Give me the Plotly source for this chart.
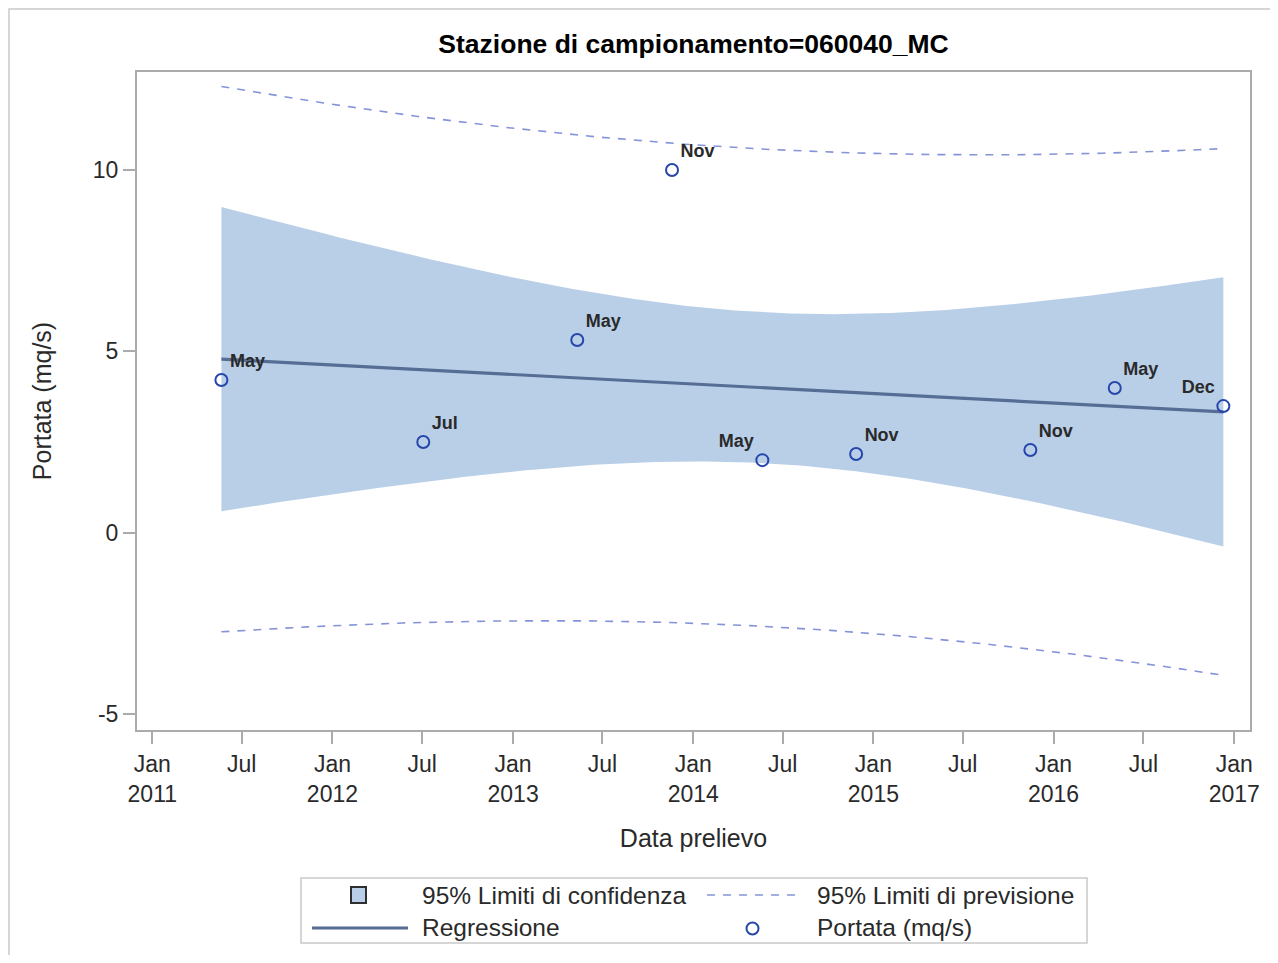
import numpy as np
import pandas as pd
import plotly.graph_objects as go

# ---------------- data ----------------
dates = ["2011-05-21", "2012-07-03", "2013-05-11", "2013-11-19", "2014-05-21",
         "2014-11-27", "2015-11-15", "2016-05-04", "2016-12-10"]
portata = [4.21, 2.50, 5.31, 10.0, 2.00, 2.17, 2.28, 3.99, 3.49]
labels = ["May", "Jul", "May", "Nov", "May", "Nov", "Nov", "May", "Dec"]
label_pos = ["top right", "top right", "top right", "top right", "top left",
             "top right", "top right", "top right", "top left"]

xtick_vals = ["2011-01-01", "2011-07-01", "2012-01-01", "2012-07-01", "2013-01-01",
              "2013-07-01", "2014-01-01", "2014-07-01", "2015-01-01", "2015-07-01",
              "2016-01-01", "2016-07-01", "2017-01-01"]
xtick_text = ["Jan<br>2011", "Jul", "Jan<br>2012", "Jul", "Jan<br>2013", "Jul",
              "Jan<br>2014", "Jul", "Jan<br>2015", "Jul", "Jan<br>2016", "Jul",
              "Jan<br>2017"]
ytick_vals = [-5, 0, 5, 10]
ytick_text = ["-5", "0", "5", "10"]

title_text = "Stazione di campionamento=060040_MC"
x_title = "Data prelievo"
y_title = "Portata (mq/s)"
legend_labels = ["95% Limiti di confidenza", "95% Limiti di previsione",
                 "Regressione", "Portata (mq/s)"]

# ---------------- linear regression fit with 95% limits ----------------
t_dates = pd.to_datetime(dates)
t0 = t_dates.min()
xd = np.array([(d - t0).days for d in t_dates], dtype=float)
yv = np.array(portata, dtype=float)
n = len(xd)
b1, b0 = np.polyfit(xd, yv, 1)
resid = yv - (b0 + b1 * xd)
s = np.sqrt(np.sum(resid ** 2) / (n - 2))
sxx = np.sum((xd - xd.mean()) ** 2)
tq = 2.364624  # t(0.975, df=7)

grid = np.linspace(xd.min(), xd.max(), 200)
fit = b0 + b1 * grid
se_mean = s * np.sqrt(1.0 / n + (grid - xd.mean()) ** 2 / sxx)
se_pred = s * np.sqrt(1.0 + 1.0 / n + (grid - xd.mean()) ** 2 / sxx)
clm_lo, clm_hi = fit - tq * se_mean, fit + tq * se_mean
pi_lo, pi_hi = fit - tq * se_pred, fit + tq * se_pred
grid_dates = [t0 + pd.Timedelta(days=float(g)) for g in grid]

# ---------------- styling ----------------
FONT = "Liberation Sans, Arial, sans-serif"
C_BAND = "#b9cfe8"
C_REG = "#566e95"
C_PRED = "#8594d8"
C_MARK = "#2646ab"
C_AXIS = "#a9abad"
C_TEXT = "#2a2a2a"

PAGE_W, PAGE_H = 1278, 963
OFF = 8  # page body margin
W, H = PAGE_W - 2 * OFF, PAGE_H - 2 * OFF
# plot area in page pixels
P_L, P_R, P_T, P_B = 137, 1250, 72, 730
L = P_L - OFF
T = P_T - OFF
R = W - (P_R - OFF)
B = H - (P_B - OFF)
PW, PH = P_R - P_L, P_B - P_T


def px(x):
    return (x - P_L) / PW


def py(y):
    return (P_B - y) / PH


fig = go.Figure()

fig.add_trace(go.Scatter(
    x=grid_dates + grid_dates[::-1],
    y=list(clm_hi) + list(clm_lo[::-1]),
    fill="toself", fillcolor=C_BAND, line=dict(width=0),
    mode="lines", hoverinfo="skip", showlegend=False))

for band in (pi_hi, pi_lo):
    fig.add_trace(go.Scatter(
        x=grid_dates, y=band, mode="lines",
        line=dict(color=C_PRED, width=1.6, dash="8px,8px"),
        showlegend=False))

fig.add_trace(go.Scatter(
    x=grid_dates, y=fit, mode="lines",
    line=dict(color=C_REG, width=3.2), showlegend=False))

fig.add_trace(go.Scatter(
    x=t_dates, y=portata, mode="markers+text",
    text=labels, textposition=label_pos,
    textfont=dict(family=FONT, size=18, color=C_TEXT, weight="bold"),
    marker=dict(symbol="circle-open", size=12, color=C_MARK,
                line=dict(width=2, color=C_MARK)),
    showlegend=False))

shapes = []
annotations = []

# outer border (top / left)
shapes.append(dict(type="line", xref="paper", yref="paper",
                   x0=px(OFF + 0.5), x1=px(PAGE_W), y0=py(OFF + 1), y1=py(OFF + 1),
                   line=dict(color="#d6d6d6", width=2)))
shapes.append(dict(type="line", xref="paper", yref="paper",
                   x0=px(OFF + 1), x1=px(OFF + 1), y0=py(OFF + 0.5), y1=py(PAGE_H),
                   line=dict(color="#d6d6d6", width=2)))

# legend box
shapes.append(dict(type="rect", xref="paper", yref="paper",
                   x0=px(301), x1=px(1087), y0=py(878), y1=py(943),
                   line=dict(color="#c9c9c9", width=1.5)))
# confidence symbol
shapes.append(dict(type="rect", xref="paper", yref="paper",
                   x0=px(351), x1=px(366), y0=py(887), y1=py(903),
                   fillcolor=C_BAND, line=dict(color="#2f2f2f", width=2)))
# prediction symbol
shapes.append(dict(type="line", xref="paper", yref="paper",
                   x0=px(707), x1=px(797), y0=py(895), y1=py(895),
                   line=dict(color=C_PRED, width=1.6, dash="8px,8px")))
# regression symbol
shapes.append(dict(type="line", xref="paper", yref="paper",
                   x0=px(312), x1=px(408), y0=py(928), y1=py(928),
                   line=dict(color=C_REG, width=3.2)))
# marker symbol
shapes.append(dict(type="circle", xref="paper", yref="paper",
                   x0=px(746.5), x1=px(758.5), y0=py(922.5), y1=py(934.5),
                   line=dict(color=C_MARK, width=2)))

for txt, x, y in [(legend_labels[0], 420, 895), (legend_labels[1], 815, 895),
                  (legend_labels[2], 420, 927), (legend_labels[3], 815, 927)]:
    annotations.append(dict(text=txt, xref="paper", yref="paper",
                            x=px(x), y=py(y), xanchor="left", yanchor="middle",
                            showarrow=False,
                            font=dict(family=FONT, size=24.5, color=C_TEXT)))

fig.update_layout(
    width=W, height=H,
    margin=dict(l=L, r=R, t=T, b=B, autoexpand=False),
    paper_bgcolor="white", plot_bgcolor="white",
    showlegend=False,
    title=dict(text=title_text, x=(693.5 - OFF) / W, xanchor="center",
               y=1 - (44 - OFF) / H, yanchor="middle", yref="container",
               font=dict(family=FONT, size=26.5, color="black", weight="bold")),
    xaxis=dict(
        range=["2010-12-01", "2017-02-02"],
        tickvals=xtick_vals, ticktext=xtick_text,
        ticks="outside", ticklen=12, tickwidth=1.5, tickcolor=C_AXIS,
        showline=True, linecolor=C_AXIS, linewidth=2, mirror=True,
        showgrid=False, zeroline=False,
        tickfont=dict(family=FONT, size=23, color=C_TEXT),
        title=dict(text=x_title, standoff=24,
                   font=dict(family=FONT, size=25, color=C_TEXT)),
    ),
    yaxis=dict(
        range=[-5.44, 12.70],
        tickvals=ytick_vals, ticktext=ytick_text,
        ticks="outside", ticklen=12, tickwidth=1.5, tickcolor=C_AXIS,
        showline=True, linecolor=C_AXIS, linewidth=2, mirror=True,
        showgrid=False, zeroline=False,
        tickfont=dict(family=FONT, size=23, color=C_TEXT),
        title=dict(text=y_title, standoff=34,
                   font=dict(family=FONT, size=25, color=C_TEXT)),
    ),
    shapes=shapes, annotations=annotations,
)

fig.write_html("out.html")
